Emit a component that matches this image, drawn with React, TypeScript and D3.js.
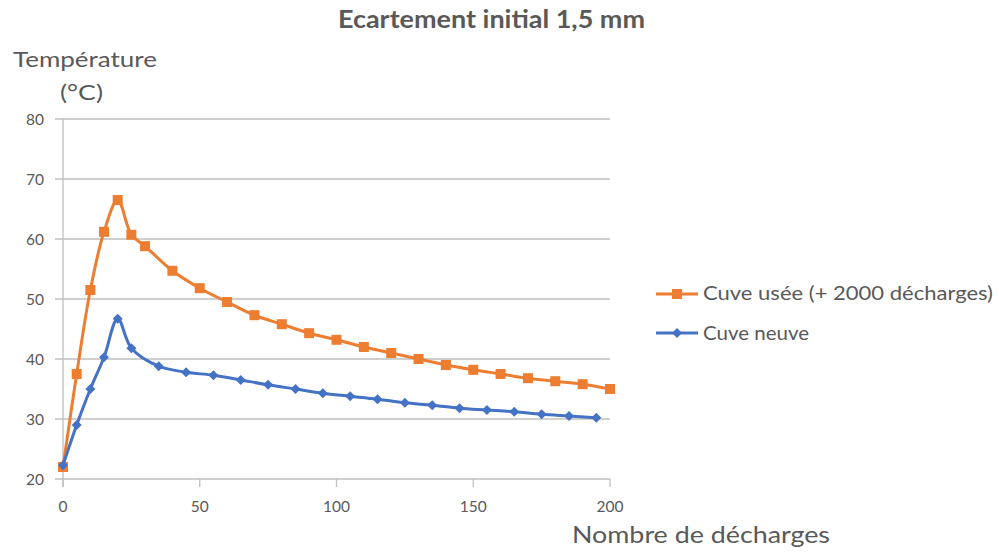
import React from "react";
import * as d3 from "d3";

const usedX = [0, 5, 10, 15, 20, 25, 30, 40, 50, 60, 70, 80, 90, 100, 110, 120, 130, 140, 150, 160, 170, 180, 190, 200];
const usedY = [22, 37.5, 51.5, 61.2, 66.5, 60.7, 58.8, 54.7, 51.8, 49.5, 47.3, 45.8, 44.3, 43.2, 42, 41, 40, 39, 38.2, 37.5, 36.8, 36.3, 35.8, 35];
const newX = [0, 5, 10, 15, 20, 25, 35, 45, 55, 65, 75, 85, 95, 105, 115, 125, 135, 145, 155, 165, 175, 185, 195];
const newY = [22.3, 29, 35, 40.3, 46.7, 41.8, 38.8, 37.8, 37.3, 36.5, 35.7, 35, 34.3, 33.8, 33.3, 32.7, 32.3, 31.8, 31.5, 31.2, 30.8, 30.5, 30.2];
const yTicks = [20, 30, 40, 50, 60, 70, 80];
const xTicks = [0, 50, 100, 150, 200];
const seriesNames = ["Cuve usée (+ 2000 décharges)", "Cuve neuve"];

const ORANGE = "#ED7D31";
const BLUE = "#4472C4";
const TEXT = "#595959";
const FONT = "Lato, 'Open Sans', sans-serif";

export default function App() {
  const W = 999, H = 559;
  const x = d3.scaleLinear().domain([0, 200]).range([63, 610]);
  const y = d3.scaleLinear().domain([20, 80]).range([479, 119]);
  const line = d3.line<[number, number]>().x(d => x(d[0])).y(d => y(d[1])).curve(d3.curveCatmullRom.alpha(0.5));
  const used: [number, number][] = usedX.map((v, i) => [v, usedY[i]]);
  const neu: [number, number][] = newX.map((v, i) => [v, newY[i]]);
  const diamond = (cx: number, cy: number, r: number) => `M${cx},${cy - r}L${cx + r},${cy}L${cx},${cy + r}L${cx - r},${cy}Z`;

  return (
    <svg width={W} height={H} style={{ position: "absolute", left: 0, top: 0, background: "#fff" }} fontFamily={FONT}>
      <rect width={W} height={H} fill="#fff" />
      <text x={338} y={28} fontSize={24} fontWeight="bold" fill={TEXT} textLength={307} lengthAdjust="spacingAndGlyphs">Ecartement initial 1,5 mm</text>
      <text x={13} y={67} fontSize={21} fill={TEXT} textLength={144} lengthAdjust="spacingAndGlyphs">Température</text>
      <text x={60} y={100} fontSize={21} fill={TEXT} textLength={43} lengthAdjust="spacingAndGlyphs">(°C)</text>
      <text x={572} y={543} fontSize={23} fill={TEXT} textLength={258} lengthAdjust="spacingAndGlyphs">Nombre de décharges</text>
      {yTicks.map(t => (
        <g key={t}>
          <line x1={55} x2={x(200)} y1={y(t)} y2={y(t)} stroke="#bfbfbf" strokeWidth={1.3} />
          <text x={44} y={y(t) + 6} textAnchor="end" fontSize={15.5} fill={TEXT}>{t}</text>
        </g>
      ))}
      <line x1={x(0)} x2={x(0)} y1={y(80)} y2={y(20) + 8} stroke="#bfbfbf" strokeWidth={1.3} />
      {xTicks.map(t => (
        <g key={t}>
          <line x1={x(t)} x2={x(t)} y1={y(20)} y2={y(20) + 8} stroke="#bfbfbf" strokeWidth={1.3} />
          <text x={x(t)} y={512} textAnchor="middle" fontSize={15.5} fill={TEXT}>{t}</text>
        </g>
      ))}
      <path d={line(used) || ""} fill="none" stroke={ORANGE} strokeWidth={3} />
      {used.map((d, i) => (
        <rect key={i} x={x(d[0]) - 5} y={y(d[1]) - 5} width={10} height={10} fill={ORANGE} />
      ))}
      <path d={line(neu) || ""} fill="none" stroke={BLUE} strokeWidth={3} />
      {neu.map((d, i) => (
        <path key={i} d={diamond(x(d[0]), y(d[1]), 5)} fill={BLUE} />
      ))}
      <line x1={656} x2={698} y1={294} y2={294} stroke={ORANGE} strokeWidth={3} />
      <rect x={672} y={289} width={10} height={10} fill={ORANGE} />
      <text x={703} y={300} fontSize={18.5} fill={TEXT} textLength={290} lengthAdjust="spacingAndGlyphs">{seriesNames[0]}</text>
      <line x1={656} x2={698} y1={333} y2={333} stroke={BLUE} strokeWidth={3} />
      <path d={diamond(677, 333, 5)} fill={BLUE} />
      <text x={703} y={340} fontSize={18.5} fill={TEXT} textLength={106} lengthAdjust="spacingAndGlyphs">{seriesNames[1]}</text>
    </svg>
  );
}
